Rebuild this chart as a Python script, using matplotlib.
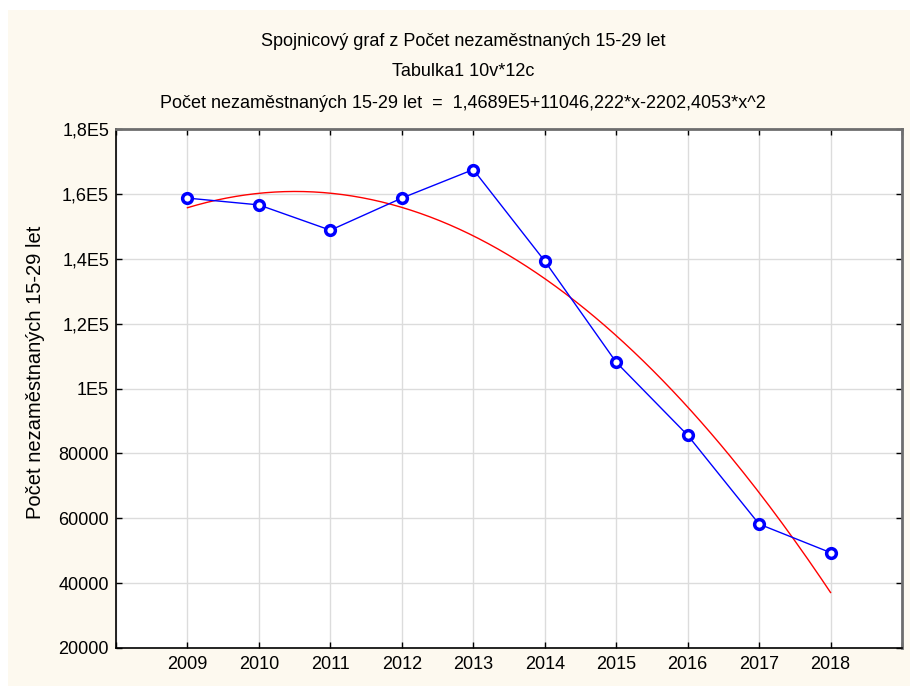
import numpy as np
import matplotlib.pyplot as plt
from matplotlib.patches import Rectangle

years = [2009, 2010, 2011, 2012, 2013, 2014, 2015, 2016, 2017, 2018]
counts = [158700, 156600, 148800, 158700, 167500, 139300, 108100, 85600, 58200, 49400]
# fit coefficients as printed in the title: b0 + b1*x + b2*x^2, x = 1..10
fit_coef = [146890.0, 11046.222, -2202.4053]
yticks = [20000, 40000, 60000, 80000, 100000, 120000, 140000, 160000, 180000]
ytick_labels = ['20000', '40000', '60000', '80000', '1E5', '1,2E5', '1,4E5', '1,6E5', '1,8E5']

title_lines = ['Spojnicový graf z Počet nezaměstnaných 15-29 let',
               'Tabulka1 10v*12c',
               'Počet nezaměstnaných 15-29 let  =  1,4689E5+11046,222*x-2202,4053*x^2']

plt.rcParams['font.family'] = ['Liberation Sans', 'DejaVu Sans']

W, H = 910, 686
fig = plt.figure(figsize=(W / 100, H / 100), dpi=100, facecolor='white')
bg = Rectangle((8 / W, 0), 1, (H - 10) / H, transform=fig.transFigure,
               facecolor='#fdf9ef', edgecolor='none', zorder=-10)
fig.patches.append(bg)

ax = fig.add_axes([116 / W, 1 - 648 / H, (902 - 116) / W, (648 - 129) / H])
ax.set_zorder(5)
ax.set_facecolor('white')

# fitted curve
xs = np.linspace(1, 10, 200)
fit = fit_coef[0] + fit_coef[1] * xs + fit_coef[2] * xs ** 2
ax.plot(xs + years[0] - 1, fit, color='#ff0000', lw=1.0, zorder=3)

ax.plot(years, counts, color='#0000ff', lw=1.0, marker='o', ms=7,
        mfc='white', mec='#0000ff', mew=2.5, zorder=4)

ax.set_xlim(2008, 2019)
ax.set_ylim(20000, 180000)
ax.set_xticks(range(2008, 2020))
ax.set_xticklabels([''] + [str(y) for y in years] + [''])
ax.set_yticks(yticks)
ax.set_yticklabels(ytick_labels)
ax.grid(True, color='#dcdcdc', lw=1.0)
ax.set_axisbelow(True)
ax.tick_params(direction='in', length=4, width=1, labelsize=13, colors='black',
               top=True, right=True, pad=6)
ax.tick_params(axis='y', pad=5)
for s in ['left', 'bottom']:
    ax.spines[s].set_color('black')
    ax.spines[s].set_linewidth(1.2)
for s in ['top', 'right']:
    ax.spines[s].set_color('#6e6e6e')
    ax.spines[s].set_linewidth(2.0)

ax.set_ylabel('Počet nezaměstnaných 15-29 let', fontsize=14.5)
ax.yaxis.set_label_coords(-0.09, 0.532)

for yy, t in zip([41, 71, 103], title_lines):
    fig.text(463 / W, 1 - yy / H, t, ha='center', va='center', fontsize=13)

fig.savefig('out.png', dpi=100, facecolor=fig.get_facecolor())
